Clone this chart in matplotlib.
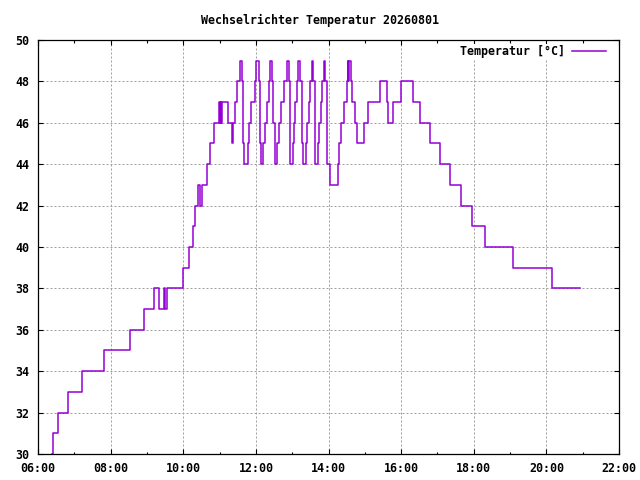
import matplotlib
matplotlib.use("Agg")
import matplotlib.pyplot as plt
from matplotlib.ticker import MultipleLocator

# ---- data ----
times = [
    "06:23", "06:24", "06:33", "06:49", "07:13", "07:49", "08:32", "08:55",
    "09:11", "09:20", "09:29", "09:30", "09:33", "10:00", "10:10", "10:16",
    "10:20", "10:25", "10:27", "10:31", "10:40", "10:45", "10:50", "10:59",
    "11:00", "11:02", "11:03", "11:04", "11:14", "11:21", "11:23", "11:25",
    "11:29", "11:34", "11:37", "11:39", "11:41", "11:45", "11:47", "11:49",
    "11:52", "11:59", "12:01", "12:05", "12:06", "12:08", "12:12", "12:15",
    "12:19", "12:22", "12:24", "12:27", "12:29", "12:31", "12:35", "12:38",
    "12:42", "12:47", "12:52", "12:54", "12:56", "12:57", "13:01", "13:03",
    "13:05", "13:08", "13:10", "13:13", "13:16", "13:18", "13:23", "13:25",
    "13:28", "13:30", "13:32", "13:35", "13:37", "13:38", "13:43", "13:45",
    "13:48", "13:50", "13:52", "13:55", "13:57", "13:58", "14:02", "14:16",
    "14:18", "14:21", "14:25", "14:30", "14:32", "14:33", "14:34", "14:37",
    "14:39", "14:44", "14:47", "14:58", "15:06", "15:25", "15:37", "15:39",
    "15:46", "16:00", "16:19", "16:31", "16:48", "17:05", "17:21", "17:39",
    "17:57", "18:18", "19:05", "20:10", "20:55",
]
temps = [
    30, 31, 32, 33, 34, 35, 36, 37,
    38, 37, 38, 37, 38, 39, 40, 41,
    42, 43, 42, 43, 44, 45, 46, 47,
    46, 47, 46, 47, 46, 45, 46, 47,
    48, 49, 48, 45, 44, 44, 45, 46,
    47, 48, 49, 48, 45, 44, 45, 46,
    47, 48, 49, 48, 46, 44, 45, 46,
    47, 48, 49, 48, 45, 44, 45, 46,
    47, 48, 49, 48, 45, 44, 45, 46,
    47, 48, 49, 48, 45, 44, 45, 46,
    47, 48, 49, 48, 45, 44, 43, 44,
    45, 46, 47, 48, 49, 48, 49, 48,
    47, 46, 45, 46, 47, 48, 47, 46,
    47, 48, 47, 46, 45, 44, 43, 42,
    41, 40, 39, 38, 38,
]
x_ticks = [6, 8, 10, 12, 14, 16, 18, 20, 22]
x_tick_labels = ["06:00", "08:00", "10:00", "12:00", "14:00",
                 "16:00", "18:00", "20:00", "22:00"]
y_ticks = [30, 32, 34, 36, 38, 40, 42, 44, 46, 48, 50]

title = "Wechselrichter Temperatur 20260801"
series_label = "Temperatur [°C]"

hours = [int(t[:2]) + int(t[3:]) / 60.0 for t in times]

FONT = dict(family="DejaVu Sans Mono", size=8.4, weight="bold")

fig = plt.figure(figsize=(6.4, 4.8), dpi=100)
ax = fig.add_axes([38 / 640, 1 - 454 / 480, (619 - 38) / 640, (454 - 40) / 480])

ax.step(hours, temps, where="post", color="#9400d3", lw=1.1, label=series_label)

ax.set_xlim(6, 22)
ax.set_ylim(30, 50)
ax.set_xticks(x_ticks)
ax.set_xticklabels(x_tick_labels)
ax.xaxis.set_minor_locator(MultipleLocator(1))
ax.set_yticks(y_ticks)
ax.set_yticklabels([str(v) for v in y_ticks])

for lab in ax.get_xticklabels() + ax.get_yticklabels():
    lab.set_fontfamily(FONT["family"])
    lab.set_fontsize(FONT["size"])
    lab.set_fontweight(FONT["weight"])

ax.tick_params(which="both", direction="in", top=True, right=True,
               color="black", width=0.8)
ax.tick_params(which="major", length=3.6, pad=6)
ax.tick_params(which="minor", length=1.8)

for s in ax.spines.values():
    s.set_linewidth(0.9)
    s.set_color("black")

ax.grid(True, which="major", color="#a0a0a0", linestyle=(0, (2, 2)), linewidth=0.72)
ax.set_axisbelow(True)

fig.text(0.5, 1 - 20 / 480, title, ha="center", va="center", **FONT)

leg = ax.legend(loc="upper right", frameon=True, fancybox=False,
                facecolor="white", edgecolor="none", framealpha=1.0,
                markerfirst=False, bbox_to_anchor=(0.9797, 0.9915),
                borderaxespad=0.0, borderpad=0.1,
                handlelength=2.9, handletextpad=0.6,
                prop=dict(family=FONT["family"], size=FONT["size"], weight="bold"))

fig.savefig("out.png", dpi=100)
